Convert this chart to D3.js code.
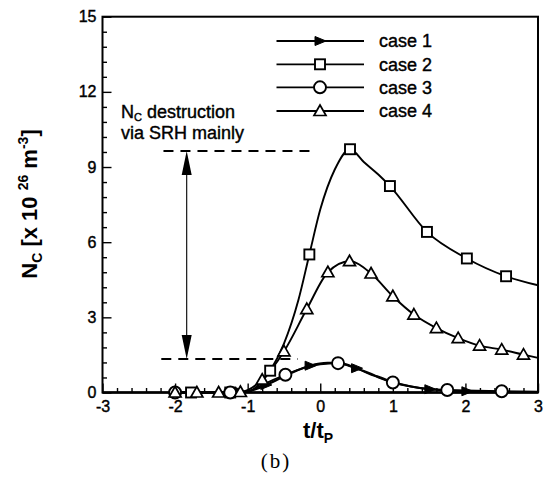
<!DOCTYPE html>
<html>
<head>
<meta charset="utf-8">
<script src="https://cdn.jsdelivr.net/npm/d3@7"></script>
<style>
  html, body { margin: 0; padding: 0; background: #fff; }
  svg { display: block; }
  text { font-family: "Liberation Sans", Arial, Helvetica, sans-serif; fill: #000; }
  .heavy { stroke: #000; stroke-width: 0.4px; }
</style>
</head>
<body>
<svg id="chart" width="549" height="480"></svg>
<script>
// ---------------- data ----------------
const seriesNames = ["case 1", "case 2", "case 3", "case 4"];

// curve samples
const case1X = [-2, -1.1, -0.9, -0.75, -0.6, -0.4, -0.14, 0.1, 0.25, 0.5, 0.75, 1.0, 1.25, 1.51, 2.02, 2.5, 3.0];
const case1Y = [0, 0.02, 0.12, 0.3, 0.5, 0.78, 1.07, 1.18, 1.18, 0.97, 0.68, 0.42, 0.24, 0.13, 0.05, 0.03, 0.02];

const case2X = [-2, -1.78, -1.24, -1.0, -0.85, -0.69, -0.5, -0.3, -0.15, 0.0, 0.2, 0.41, 0.6, 0.8, 0.96, 1.47, 2.02, 2.56, 3.0];
const case2Y = [0, 0, 0, 0.03, 0.3, 0.87, 1.95, 3.7, 5.51, 7.3, 8.9, 9.71, 9.2, 8.7, 8.24, 6.41, 5.35, 4.64, 4.28];

const case3X = [-2, -1.24, -1.0, -0.8, -0.48, -0.2, 0.0, 0.245, 0.5, 0.75, 1.0, 1.25, 1.5, 1.75, 2.5, 3.0];
const case3Y = [0, 0, 0.03, 0.3, 0.71, 1.0, 1.13, 1.17, 0.95, 0.66, 0.40, 0.24, 0.14, 0.1, 0.05, 0.03];

const case4X = [-2, -1.7, -1.4, -1.1, -0.8, -0.5, -0.185, 0.105, 0.403, 0.7, 1.0, 1.29, 1.6, 1.9, 2.195, 2.5, 2.8, 3.0];
const case4Y = [0, 0, 0, 0.02, 0.51, 1.64, 3.33, 4.8, 5.24, 4.75, 3.84, 3.11, 2.57, 2.17, 1.87, 1.71, 1.51, 1.38];

// marker positions
const case1MarkX = [-1.1, -0.75, -0.14, 0.5, 1.51, 2.02];
const case1MarkY = [0.02, 0.3, 1.07, 0.97, 0.13, 0.05];
const case2MarkX = [-1.78, -1.24, -0.69, -0.15, 0.41, 0.96, 1.47, 2.02, 2.56];
const case2MarkY = [0, 0, 0.87, 5.51, 9.71, 8.24, 6.41, 5.35, 4.64];
const case3MarkX = [-2, -1.24, -0.48, 0.245, 1.0, 1.75, 2.5];
const case3MarkY = [0, 0, 0.71, 1.17, 0.40, 0.1, 0.05];
const case4MarkX = [-2, -1.7, -1.4, -1.1, -0.8, -0.5, -0.185, 0.105, 0.403, 0.7, 1.0, 1.29, 1.6, 1.9, 2.195, 2.5, 2.8];
const case4MarkY = [0, 0, 0, 0.02, 0.51, 1.64, 3.33, 4.8, 5.24, 4.75, 3.84, 3.11, 2.57, 2.17, 1.87, 1.71, 1.51];

// axes
const xTickValues = [-3, -2, -1, 0, 1, 2, 3];
const xTickLabels = ["-3", "-2", "-1", "0", "1", "2", "3"];
const yTickValues = [0, 3, 6, 9, 12, 15];
const yTickLabels = ["0", "3", "6", "9", "12", "15"];

// annotation: levels of N_C and time position
const annotLevels = [9.64, 1.34];     // upper / lower dashed levels
const annotUpperX = [-2.16, -0.14];
const annotLowerX = [-2.19, -0.31];
const annotArrowX = -1.84;

// ---------------- drawing ----------------
const svg = d3.select("#chart");
svg.append("rect").attr("width", 549).attr("height", 480).attr("fill", "#fff");

const L = 102.5, R = 538, T = 16.7, B = 392.5;
const x = d3.scaleLinear().domain([-3, 3]).range([L, R]);
const y = d3.scaleLinear().domain([0, 15]).range([B, T]);

const fontTick = 16;

// minor ticks
const xMinor = d3.range(-3, 3.0001, 0.2).filter(v => Math.abs(v - Math.round(v)) > 1e-6);
const yMinor = d3.range(0, 15.0001, 0.6).filter(v => Math.abs(v / 3 - Math.round(v / 3)) > 1e-6);

const gx = svg.append("g").attr("transform", `translate(0,${B})`)
  .call(d3.axisBottom(x).tickValues(xTickValues).tickSize(-9).tickPadding(7)
    .tickFormat((d, i) => xTickLabels[i]));
const gxm = svg.append("g").attr("transform", `translate(0,${B})`)
  .call(d3.axisBottom(x).tickValues(xMinor).tickSize(-4.5).tickFormat(""));
const gy = svg.append("g").attr("transform", `translate(${L},0)`)
  .call(d3.axisLeft(y).tickValues(yTickValues).tickSize(-9).tickPadding(6)
    .tickFormat((d, i) => yTickLabels[i]));
const gym = svg.append("g").attr("transform", `translate(${L},0)`)
  .call(d3.axisLeft(y).tickValues(yMinor).tickSize(-4.5).tickFormat(""));

[gx, gxm, gy, gym].forEach(g => {
  g.select(".domain").remove();
  g.selectAll(".tick line").attr("stroke", "#000").attr("stroke-width", 1.4);
  g.selectAll(".tick text").attr("font-size", fontTick).attr("fill", "#000")
    .attr("class", "heavy")
    .attr("font-family", '"Liberation Sans", Arial, sans-serif');
});
gx.selectAll(".tick text").attr("dy", "0.78em");

// frame
svg.append("rect").attr("x", L).attr("y", T).attr("width", R - L).attr("height", B - T)
  .attr("fill", "none").attr("stroke", "#000").attr("stroke-width", 2);
svg.append("line").attr("x1", L).attr("x2", R).attr("y1", B).attr("y2", B)
  .attr("stroke", "#000").attr("stroke-width", 2.6);

// lines
const line = d3.line().x(d => x(d[0])).y(d => y(d[1])).curve(d3.curveMonotoneX);
const curves = [
  d3.zip(case1X, case1Y), d3.zip(case2X, case2Y), d3.zip(case3X, case3Y), d3.zip(case4X, case4Y)
];
const plot = svg.append("g");
curves.forEach((c, i) => {
  plot.append("path").datum(c).attr("d", line).attr("fill", "none")
    .attr("stroke", "#000").attr("stroke-width", i === 0 ? 2.2 : 1.9);
});

// marker shapes
function drawMarker(g, type, cx, cy) {
  if (type === 0) {
    g.append("path").attr("d", `M${cx - 5},${cy - 4.5}L${cx + 6},${cy}L${cx - 5},${cy + 4.5}Z`)
      .attr("fill", "#000").attr("stroke", "#000").attr("stroke-width", 1);
  } else if (type === 1) {
    g.append("rect").attr("x", cx - 5).attr("y", cy - 5).attr("width", 10).attr("height", 10)
      .attr("fill", "#fff").attr("stroke", "#000").attr("stroke-width", 1.9);
  } else if (type === 2) {
    g.append("circle").attr("cx", cx).attr("cy", cy).attr("r", 6)
      .attr("fill", "#fff").attr("stroke", "#000").attr("stroke-width", 1.9);
  } else {
    g.append("path").attr("d", `M${cx},${cy - 6}L${cx + 6},${cy + 4.5}L${cx - 6},${cy + 4.5}Z`)
      .attr("fill", "#fff").attr("stroke", "#000").attr("stroke-width", 1.7);
  }
}
const marks = [
  d3.zip(case1MarkX, case1MarkY), d3.zip(case2MarkX, case2MarkY),
  d3.zip(case3MarkX, case3MarkY), d3.zip(case4MarkX, case4MarkY)
];
marks.forEach((m, i) => {
  const g = plot.append("g");
  m.forEach(p => drawMarker(g, i, x(p[0]), y(p[1])));
});

// legend
const legRows = [41, 64.3, 87.3, 111];
const leg = svg.append("g");
seriesNames.forEach((name, i) => {
  leg.append("line").attr("x1", 276.5).attr("x2", 364).attr("y1", legRows[i]).attr("y2", legRows[i])
    .attr("stroke", "#000").attr("stroke-width", 1.8);
  drawMarker(leg, i, 320, legRows[i]);
  leg.append("text").attr("x", 379).attr("y", legRows[i]).attr("dy", "0.36em")
    .attr("class", "heavy").attr("font-size", 18).text(name);
});

// annotation
const ann = svg.append("g");
ann.append("line").attr("x1", x(annotUpperX[0])).attr("x2", x(annotUpperX[1]))
  .attr("y1", y(annotLevels[0])).attr("y2", y(annotLevels[0]))
  .attr("stroke", "#000").attr("stroke-width", 2).attr("stroke-dasharray", "10,7");
ann.append("line").attr("x1", x(annotLowerX[0])).attr("x2", x(annotLowerX[1]))
  .attr("y1", y(annotLevels[1])).attr("y2", y(annotLevels[1]))
  .attr("stroke", "#000").attr("stroke-width", 2).attr("stroke-dasharray", "10,7");
const ax = x(annotArrowX), ay1 = y(annotLevels[0]), ay2 = y(annotLevels[1]);
ann.append("line").attr("x1", ax).attr("x2", ax).attr("y1", ay1 + 10).attr("y2", ay2 - 10)
  .attr("stroke", "#000").attr("stroke-width", 1.1);
ann.append("path").attr("d", `M${ax},${ay1}L${ax + 5},${ay1 + 24}L${ax - 5},${ay1 + 24}Z`).attr("fill", "#000");
ann.append("path").attr("d", `M${ax},${ay2}L${ax + 5},${ay2 - 24}L${ax - 5},${ay2 - 24}Z`).attr("fill", "#000");

const t1 = ann.append("text").attr("x", 121).attr("y", 118).attr("font-size", 18).attr("class", "heavy");
t1.append("tspan").text("N");
t1.append("tspan").attr("font-size", 11).attr("dy", 3).text("C");
t1.append("tspan").attr("dy", -3).text(" destruction");
ann.append("text").attr("x", 121).attr("y", 139).attr("font-size", 18).attr("class", "heavy").text("via SRH mainly");

// axis titles
const yl = svg.append("text").attr("transform", "translate(37,204) rotate(-90)")
  .attr("text-anchor", "middle").attr("font-size", 22).attr("font-weight", "bold");
yl.append("tspan").text("N");
yl.append("tspan").attr("font-size", 14).attr("dy", 5).text("C");
yl.append("tspan").attr("dy", -5).text(" [x 10 ");
yl.append("tspan").attr("font-size", 14).attr("dy", -9).text("26");
yl.append("tspan").attr("dy", 9).text(" m");
yl.append("tspan").attr("font-size", 14).attr("dy", -9).text("-3");
yl.append("tspan").attr("dy", 9).text("]");

const xl = svg.append("text").attr("x", 318).attr("y", 438).attr("text-anchor", "middle")
  .attr("font-size", 22).attr("font-weight", "bold");
xl.append("tspan").text("t/t");
xl.append("tspan").attr("font-size", 14).attr("dy", 5).text("P");

svg.append("text").attr("x", 276).attr("y", 468).attr("text-anchor", "middle")
  .attr("font-size", 21).attr("letter-spacing", 2)
  .style("font-family", '"Liberation Serif", "DejaVu Serif", serif').text("(b)");
</script>
</body>
</html>
